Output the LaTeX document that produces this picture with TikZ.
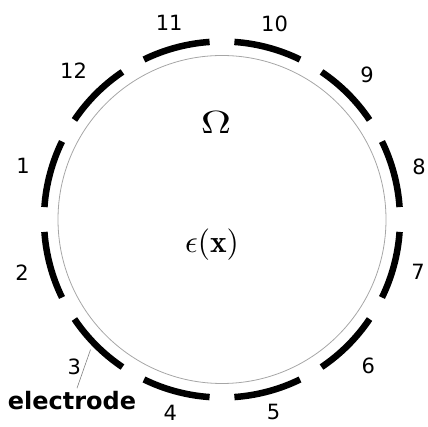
\documentclass[tikz,border=0pt]{standalone}
\usepackage{fontspec}
\newfontfamily\dejavu{DejaVu Sans}
\usepackage{amsmath,amssymb,bm}

\tikzset{elec/.style={line width=6.5pt},num/.style={font=\dejavu\fontsize{21}{21}\selectfont}}

\begin{document}
\begin{tikzpicture}[x=1pt,y=1pt]
\useasboundingbox (-222,-207.5) rectangle (206,219.5);
\draw[gray!70,line width=0.8pt] (0,0) circle (164);
\foreach \k/\a/\r in {1/165/206,2/-165/207,3/-135/209,4/-105/200,5/-75/199,6/-45/207,7/-15/203,8/15/204,9/45/205,10/75/203,11/105/204,12/135/210}{
  \draw[elec] (\a-11:178) arc (\a-11:\a+11:178);
  \node[num] (n\k) at (\a:\r) {\k};
}
\node (Om) at (-6,96.5) {\scalebox{4.2}[3.2]{$\Omega$}};
\node (eps) at (-10,-25.5) {\scalebox{3.15}{$\epsilon(\mathbf{x})$}};
\node[font=\dejavu\bfseries\fontsize{24}{24}\selectfont] (lab) at (-150,-181.5) {electrode};
\coordinate (e3) at (-135.3:185);
\draw[gray,line width=0.6pt] ([xshift=5pt]lab.north) -- (e3);
\end{tikzpicture}
\end{document}
